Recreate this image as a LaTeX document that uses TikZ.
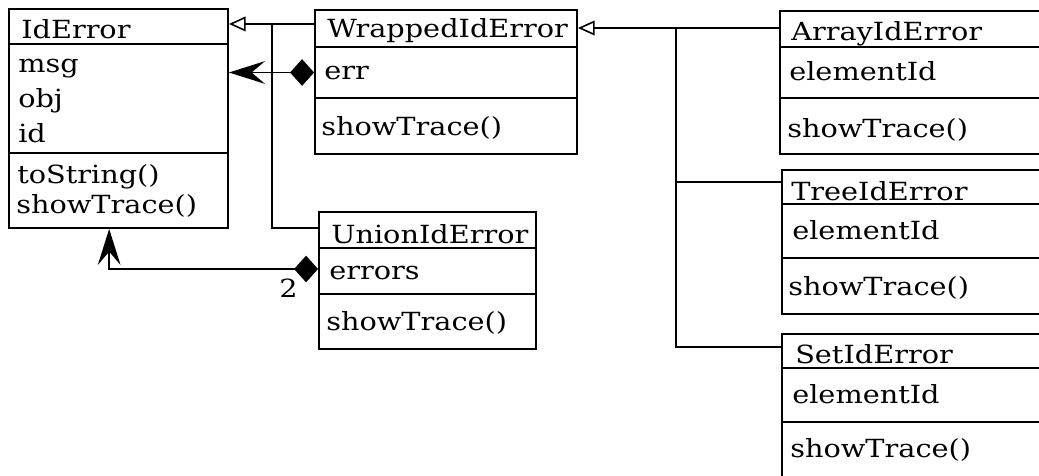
\documentclass[tikz,border=0pt]{standalone}
\usepackage{fontspec}
\setmainfont{DejaVu Serif}[FakeStretch=1.15]
\usetikzlibrary{fit,arrows.meta}
\begin{document}
\begin{tikzpicture}[x=0.75pt,y=-0.75pt,
  box/.style={draw, line width=1.4pt, rectangle, inner sep=0pt},
  txt/.style={anchor=base west, inner sep=0pt, text=black, font=\fontsize{18.75pt}{27pt}\selectfont},
  conn/.style={line width=1.2pt},
  gen/.style={-{Triangle[open, length=12.5pt, width=11pt]}},
  comp/.style={{Diamond[length=18pt, width=20pt]}-{Stealth[length=27pt, width=17pt, inset=10pt]}}]
\useasboundingbox (0,0) rectangle (1039,475);
\clip (0,0) rectangle (1039,475);

% IdError
\node[box, fit={(9,9) (228,44)}] (iH) {};
\node[box, fit={(9,44) (228,153)}] (iA) {};
\node[box, fit={(9,153) (228,228)}] (iM) {};
\node[txt] (iHt) at (21,38) {IdError};
\node[txt] (iA1) at (18,72) {msg};
\node[txt] (iA2) at (18,107) {obj};
\node[txt] (iA3) at (18,142) {id};
\node[txt] (iM1) at (17,183) {toString()};
\node[txt] (iM2) at (16,213) {showTrace()};

% WrappedIdError
\node[box, fit={(315,10) (577,47)}] (wH) {};
\node[box, fit={(315,47) (577,98)}] (wA) {};
\node[box, fit={(315,98) (577,154)}] (wM) {};
\node[txt] (wHt) at (327,37) {WrappedIdError};
\node[txt] (wA1) at (324,79) {err};
\node[txt] (wM1) at (321,135) {showTrace()};

% UnionIdError
\node[box, fit={(319,212) (536,248)}] (uH) {};
\node[box, fit={(319,248) (536,294)}] (uA) {};
\node[box, fit={(319,294) (536,349)}] (uM) {};
\node[txt] (uHt) at (331,243) {UnionIdError};
\node[txt] (uA1) at (329,279) {errors};
\node[txt] (uM1) at (326,330) {showTrace()};

% ArrayIdError
\node[box, fit={(780,11) (1060,47)}] (aH) {};
\node[box, fit={(780,47) (1060,98)}] (aA) {};
\node[box, fit={(780,98) (1060,154)}] (aM) {};
\node[txt] (aHt) at (791,40) {ArrayIdError};
\node[txt] (aA1) at (789,80) {elementId};
\node[txt] (aM1) at (787,137) {showTrace()};

% TreeIdError
\node[box, fit={(782,170) (1060,204)}] (tH) {};
\node[box, fit={(782,204) (1060,258)}] (tA) {};
\node[box, fit={(782,258) (1060,314)}] (tM) {};
\node[txt] (tHt) at (791,200) {TreeIdError};
\node[txt] (tA1) at (792,239) {elementId};
\node[txt] (tM1) at (788,295) {showTrace()};

% SetIdError
\node[box, fit={(782,334) (1060,368)}] (sH) {};
\node[box, fit={(782,368) (1060,422)}] (sA) {};
\node[box, fit={(782,422) (1060,500)}] (sM) {};
\node[txt] (sHt) at (795,363) {SetIdError};
\node[txt] (sA1) at (792,403) {elementId};
\node[txt] (sM1) at (790,457) {showTrace()};

% generalisations to IdError
\coordinate (w1) at ([yshift=3.4pt]wH.west);
\draw[conn, gen] (w1) -- (w1 -| iH.east);
\coordinate (j1) at ([xshift=-31.5pt]w1);
\draw[conn] ([yshift=1.5pt]uH.west) -| (j1);

% compositions
\draw[conn, comp] (wA.west) -- (wA.west -| iA.east);
\coordinate (c2) at ([xshift=-7pt]iM.south);
\draw[conn, comp] ([yshift=1.5pt]uA.west) -| (c2);
\node[txt] (mult) at (279,297) {2};

% generalisations to WrappedIdError
\coordinate (a1) at ([yshift=0.75pt]aH.west);
\draw[conn, gen] (a1) -- (a1 -| wH.east);
\coordinate (j2) at ([xshift=-77.25pt]a1);
\coordinate (t1) at ([yshift=3.75pt]tH.west);
\coordinate (s1) at ([yshift=3pt]sH.west);
\draw[conn] (s1) -| (j2);
\draw[conn] (t1) -- (t1 -| j2);
\end{tikzpicture}
\end{document}
